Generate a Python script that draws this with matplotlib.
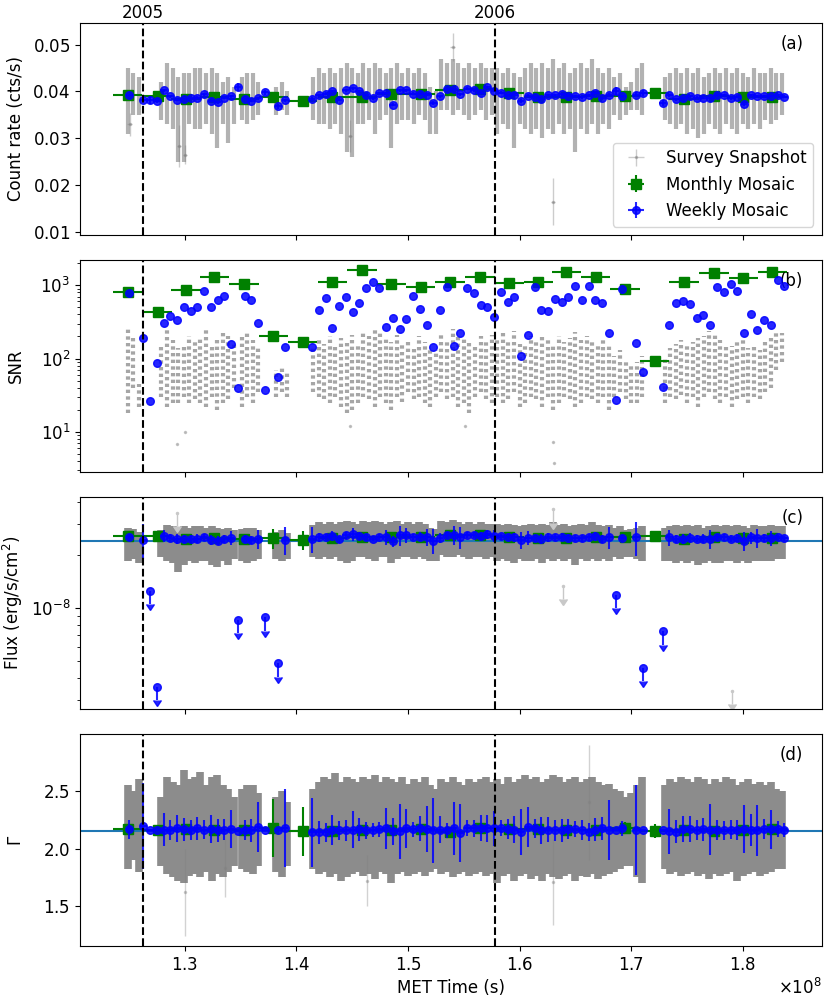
import numpy as np
import matplotlib
matplotlib.use("Agg")
import matplotlib.pyplot as plt

plt.rcParams['axes.formatter.use_mathtext'] = True
plt.rcParams['font.size'] = 12

T8 = 1e8    # times below are in units of 1e8 s (MET)
F8 = 1e-8   # fluxes below are in units of 1e-8 erg/s/cm^2

year_t = [1.262304, 1.577664]
year_labels = ['2005', '2006']

# ---------------- weekly mosaics ----------------
week_t = [1.2503, 1.2629, 1.2688, 1.2751, 1.2811, 1.2871, 1.2930, 1.2993, 1.3053, 1.3113,
          1.3172, 1.3235, 1.3295, 1.3355, 1.3414, 1.3477, 1.3537, 1.3596, 1.3656, 1.3719,
          1.3838, 1.3898, 1.4140, 1.4200, 1.4262, 1.4322, 1.4382, 1.4442, 1.4504, 1.4564,
          1.4624, 1.4684, 1.4743, 1.4803, 1.4863, 1.4926, 1.4985, 1.5045, 1.5105, 1.5168,
          1.5227, 1.5287, 1.5350, 1.5409, 1.5469, 1.5529, 1.5589, 1.5651, 1.5711, 1.5774,
          1.5834, 1.5893, 1.5953, 1.6013, 1.6076, 1.6135, 1.6195, 1.6255, 1.6317, 1.6377,
          1.6437, 1.6500, 1.6559, 1.6619, 1.6679, 1.6742, 1.6801, 1.6861, 1.6921, 1.7043,
          1.7103, 1.7282, 1.7342, 1.7405, 1.7464, 1.7527, 1.7587, 1.7647, 1.7709, 1.7769,
          1.7829, 1.7891, 1.7951, 1.8011, 1.8071, 1.8131, 1.8190, 1.8253, 1.8313, 1.8372]
week_half = 0.003
week_rate = [0.03922, 0.03816, 0.03816, 0.03794, 0.04021, 0.03901, 0.03823, 0.03844, 0.03858, 0.03865,
             0.03943, 0.03801, 0.03766, 0.03865, 0.03894, 0.04099, 0.03844, 0.03801, 0.03851, 0.03979,
             0.03681, 0.03809, 0.03837, 0.03922, 0.03950, 0.04007, 0.03823, 0.04028, 0.04071, 0.04000,
             0.03915, 0.03851, 0.03957, 0.03957, 0.03716, 0.04028, 0.04028, 0.03950, 0.03950, 0.03929,
             0.03759, 0.03901, 0.04050, 0.04043, 0.03943, 0.04057, 0.04028, 0.03972, 0.04085, 0.04014,
             0.03972, 0.03915, 0.03929, 0.03801, 0.03908, 0.03879, 0.03844, 0.03915, 0.03915, 0.03943,
             0.03908, 0.03894, 0.03872, 0.03915, 0.03972, 0.03851, 0.03929, 0.04014, 0.03901, 0.03929,
             0.03972, 0.03759, 0.03922, 0.03837, 0.03851, 0.03901, 0.03865, 0.03865, 0.03851, 0.03915,
             0.03922, 0.03858, 0.03886, 0.03731, 0.03922, 0.03894, 0.03894, 0.03894, 0.03915, 0.03886]
week_rate_err = [0.0003, 0.0004, 0.0009, 0.0005, 0.0003, 0.0003, 0.0003, 0.0003, 0.0003, 0.0003,
                 0.0003, 0.0003, 0.0003, 0.0003, 0.0003, 0.0008, 0.0003, 0.0003, 0.0004, 0.0006,
                 0.0006, 0.0004, 0.0004, 0.0003, 0.0003, 0.0003, 0.0003, 0.0003, 0.0003, 0.0003,
                 0.0003, 0.0003, 0.0003, 0.0003, 0.0003, 0.0003, 0.0003, 0.0003, 0.0003, 0.0003,
                 0.0004, 0.0003, 0.0003, 0.0003, 0.0003, 0.0003, 0.0003, 0.0003, 0.0003, 0.0003,
                 0.0003, 0.0003, 0.0003, 0.0004, 0.0003, 0.0003, 0.0003, 0.0003, 0.0003, 0.0003,
                 0.0003, 0.0003, 0.0003, 0.0003, 0.0003, 0.0003, 0.0004, 0.0009, 0.0003, 0.0005,
                 0.0006, 0.0006, 0.0003, 0.0003, 0.0003, 0.0003, 0.0003, 0.0003, 0.0003, 0.0003,
                 0.0003, 0.0003, 0.0003, 0.0004, 0.0003, 0.0003, 0.0003, 0.0003, 0.0003, 0.0003]
week_snr = [790, 191, 26.6, 86.5, 309, 380, 332, 499, 445, 509,
            824, 504, 622, 712, 158, 39.9, 719, 635, 309, 37.5,
            56.9, 143, 143, 464, 662, 259, 520, 697, 435, 572,
            924, 1104, 915, 267, 361, 251, 343, 719, 479, 284,
            143, 454, 944, 149, 226, 915, 790, 544, 499, 365,
            815, 583, 690, 109, 210, 944, 464, 441, 649, 590,
            697, 973, 622, 973, 629, 578, 226, 27.4, 887, 165,
            65.2, 41.2, 284, 566, 608, 548, 361, 393, 284, 934,
            815, 1038, 832, 226, 404, 243, 336, 290, 1175, 984]
week_flux = [2.51, 2.44, 1.25, 0.357, 2.57, 2.50, 2.45, 2.46, 2.47, 2.47,
             2.52, 2.43, 2.41, 2.47, 2.49, 0.859, 2.46, 2.43, 2.46, 0.885,
             0.486, 2.44, 2.46, 2.51, 2.53, 2.56, 2.45, 2.58, 2.61, 2.56,
             2.51, 2.46, 2.53, 2.53, 2.38, 2.58, 2.58, 2.53, 2.53, 2.51,
             2.41, 2.50, 2.59, 2.59, 2.52, 2.60, 2.58, 2.54, 2.61, 2.57,
             2.54, 2.51, 2.51, 2.43, 2.50, 2.48, 2.46, 2.51, 2.51, 2.52,
             2.50, 2.49, 2.48, 2.51, 2.54, 2.46, 2.51, 1.19, 2.50, 2.51,
             0.459, 0.738, 2.51, 2.46, 2.46, 2.50, 2.47, 2.47, 2.46, 2.51,
             2.51, 2.47, 2.49, 2.39, 2.51, 2.49, 2.49, 2.49, 2.51, 2.49]
week_flux_err = [0.11, 0.55, 0, 0, 0.20, 0.12, 0.16, 0.14, 0.12, 0.14,
                 0.11, 0.17, 0.14, 0.13, 0.23, 0, 0.12, 0.14, 0.30, 0,
                 0, 0.45, 0.42, 0.14, 0.11, 0.18, 0.12, 0.13, 0.22, 0.14,
                 0.10, 0.08, 0.09, 0.25, 0.16, 0.33, 0.24, 0.09, 0.15, 0.28,
                 0.39, 0.16, 0.09, 0.32, 0.35, 0.10, 0.10, 0.15, 0.16, 0.21,
                 0.10, 0.12, 0.16, 0.28, 0.24, 0.11, 0.16, 0.15, 0.13, 0.14,
                 0.12, 0.10, 0.12, 0.11, 0.14, 0.14, 0.36, 0, 0.09, 0.55,
                 0, 0, 0.27, 0.14, 0.15, 0.16, 0.12, 0.14, 0.31, 0.12,
                 0.11, 0.12, 0.12, 0.29, 0.20, 0.31, 0.12, 0.24, 0.09, 0.08]
week_gam = [2.168, 2.197, 2.157, 2.157, 2.163, 2.163, 2.174, 2.168, 2.163, 2.176,
            2.163, 2.168, 2.157, 2.163, 2.168, 2.151, 2.163, 2.157, 2.185, 2.157,
            2.157, 2.179, 2.140, 2.140, 2.140, 2.157, 2.157, 2.157, 2.163, 2.168,
            2.157, 2.163, 2.168, 2.174, 2.148, 2.148, 2.174, 2.168, 2.174, 2.168,
            2.157, 2.163, 2.157, 2.174, 2.134, 2.176, 2.174, 2.179, 2.174, 2.174,
            2.176, 2.168, 2.163, 2.145, 2.185, 2.174, 2.157, 2.163, 2.157, 2.157,
            2.168, 2.168, 2.163, 2.140, 2.163, 2.174, 2.163, 2.163, 2.174, 2.163,
            2.157, 2.157, 2.151, 2.145, 2.168, 2.168, 2.157, 2.168, 2.163, 2.163,
            2.157, 2.163, 2.163, 2.168, 2.163, 2.157, 2.168, 2.168, 2.168, 2.163]
week_gam_err = [0.081, 0.375, 0, 0, 0.145, 0.087, 0.116, 0.10, 0.087, 0.10,
                0.08, 0.12, 0.10, 0.093, 0.166, 0, 0.087, 0.10, 0.217, 0,
                0, 0.335, 0.30, 0.10, 0.08, 0.13, 0.085, 0.093, 0.16, 0.10,
                0.072, 0.06, 0.065, 0.18, 0.115, 0.24, 0.17, 0.065, 0.11, 0.20,
                0.28, 0.115, 0.068, 0.23, 0.25, 0.07, 0.072, 0.11, 0.115, 0.15,
                0.07, 0.087, 0.115, 0.20, 0.175, 0.08, 0.115, 0.11, 0.093, 0.10,
                0.087, 0.072, 0.087, 0.078, 0.10, 0.10, 0.26, 0, 0.065, 0.39,
                0, 0, 0.195, 0.10, 0.11, 0.115, 0.087, 0.10, 0.22, 0.087,
                0.08, 0.084, 0.087, 0.21, 0.14, 0.22, 0.087, 0.17, 0.068, 0.06]
week_ul = [2, 3, 15, 19, 20, 67, 70, 71]   # weeks where the flux is an upper limit

# ---------------- monthly mosaics ----------------
month_t = [1.2489, 1.2757, 1.3011, 1.3265, 1.3531, 1.3793, 1.4056, 1.4322, 1.4588, 1.4851,
           1.5114, 1.5377, 1.5645, 1.5908, 1.6168, 1.6419, 1.6682, 1.6945, 1.7211, 1.7474,
           1.7743, 1.8005, 1.8266]
month_half = 0.0131
month_rate = [0.03929, 0.03908, 0.03844, 0.03886, 0.03837, 0.03879, 0.03794, 0.03886, 0.03886, 0.03936,
              0.03936, 0.04021, 0.04057, 0.03957, 0.03886, 0.03886, 0.03901, 0.03908, 0.03957, 0.03837,
              0.03901, 0.03872, 0.03886]
month_rate_err = [0.0002, 0.0002, 0.0002, 0.0002, 0.0002, 0.0003, 0.0003, 0.0002, 0.0002, 0.0002,
                  0.0002, 0.0002, 0.0002, 0.0002, 0.0002, 0.0002, 0.0002, 0.0002, 0.0003, 0.0002,
                  0.0002, 0.0002, 0.0002]
month_snr = [798, 427, 851, 1304, 1026, 206, 170, 1104, 1607, 1026,
             954, 1114, 1304, 1081, 1114, 1510, 1304, 896, 93, 1097,
             1448, 1238, 1510]
month_flux = [2.54, 2.54, 2.47, 2.50, 2.47, 2.49, 2.44, 2.50, 2.52, 2.53,
              2.53, 2.58, 2.60, 2.53, 2.50, 2.50, 2.51, 2.51, 2.55, 2.47,
              2.51, 2.49, 2.50]
month_flux_err = [0.06, 0.08, 0.05, 0.04, 0.05, 0.32, 0.30, 0.05, 0.04, 0.05,
                  0.05, 0.05, 0.04, 0.05, 0.05, 0.04, 0.04, 0.06, 0.10, 0.05,
                  0.04, 0.04, 0.04]
month_gam = [2.168, 2.163, 2.168, 2.163, 2.163, 2.176, 2.148, 2.148, 2.163, 2.157,
             2.168, 2.140, 2.176, 2.168, 2.168, 2.163, 2.157, 2.176, 2.151, 2.163,
             2.148, 2.163, 2.168]
month_gam_err = [0.04, 0.04, 0.03, 0.025, 0.03, 0.25, 0.215, 0.03, 0.025, 0.03,
                 0.03, 0.03, 0.025, 0.03, 0.03, 0.025, 0.025, 0.05, 0.06, 0.03,
                 0.025, 0.03, 0.025]

# ---------------- survey snapshots (grouped in ~6 day stripes: low / high) ----------------
snap_t = [1.249, 1.254, 1.259,
          1.279, 1.284, 1.289, 1.294, 1.299, 1.304, 1.309, 1.314, 1.319, 1.324, 1.329, 1.334, 1.339, 1.344,
          1.351, 1.356, 1.361, 1.366,
          1.382, 1.387, 1.392,
          1.415, 1.420, 1.425, 1.430, 1.435, 1.440, 1.445, 1.450, 1.455, 1.460,
          1.465, 1.470, 1.475, 1.480, 1.485, 1.490, 1.495, 1.500, 1.505, 1.510,
          1.515, 1.520, 1.525, 1.530, 1.535, 1.540, 1.545, 1.550, 1.555, 1.560,
          1.565, 1.570, 1.575, 1.580, 1.585, 1.590, 1.595, 1.600, 1.605, 1.610,
          1.615, 1.620, 1.625, 1.630, 1.635, 1.640, 1.645, 1.650, 1.655, 1.660,
          1.665, 1.670, 1.675, 1.680, 1.685, 1.690, 1.695, 1.700,
          1.705, 1.710,
          1.730, 1.735, 1.740, 1.745, 1.750, 1.755, 1.760, 1.765, 1.770, 1.775,
          1.780, 1.785, 1.790, 1.795, 1.800, 1.805, 1.810, 1.815, 1.820, 1.825,
          1.830, 1.835]
snap_rate_lo = [0.031, 0.035, 0.035,
                0.034, 0.033, 0.032, 0.025, 0.025, 0.033, 0.032, 0.032, 0.033, 0.031, 0.028, 0.033, 0.029, 0.033,
                0.034, 0.033, 0.034, 0.035,
                0.035, 0.036, 0.035,
                0.034, 0.033, 0.033, 0.032, 0.033, 0.031, 0.027, 0.026, 0.033, 0.033,
                0.034, 0.031, 0.034, 0.035, 0.028, 0.033, 0.034, 0.034, 0.033, 0.035,
                0.034, 0.031, 0.031, 0.036, 0.036, 0.035, 0.036, 0.035, 0.034, 0.035,
                0.036, 0.034, 0.035, 0.031, 0.033, 0.032, 0.028, 0.033, 0.032, 0.031,
                0.032, 0.030, 0.032, 0.031, 0.033, 0.031, 0.032, 0.027, 0.032, 0.031,
                0.033, 0.031, 0.033, 0.032, 0.035, 0.034, 0.035, 0.036,
                0.036, 0.035,
                0.034, 0.033, 0.032, 0.033, 0.031, 0.032, 0.030, 0.031, 0.033, 0.032,
                0.031, 0.033, 0.032, 0.031, 0.033, 0.032, 0.033, 0.032, 0.034, 0.033,
                0.034, 0.035]
snap_rate_hi = [0.045, 0.044, 0.043,
                0.042, 0.046, 0.045, 0.043, 0.044, 0.044, 0.045, 0.045, 0.044, 0.045, 0.044, 0.042, 0.043, 0.041,
                0.043, 0.044, 0.044, 0.042,
                0.041, 0.042, 0.040,
                0.043, 0.045, 0.044, 0.045, 0.044, 0.045, 0.046, 0.045, 0.044, 0.046,
                0.045, 0.046, 0.045, 0.044, 0.045, 0.046, 0.044, 0.045, 0.044, 0.045,
                0.044, 0.041, 0.040, 0.047, 0.046, 0.047, 0.046, 0.045, 0.046, 0.045,
                0.046, 0.045, 0.045, 0.045, 0.044, 0.045, 0.044, 0.043, 0.045, 0.046,
                0.045, 0.046, 0.045, 0.047, 0.045, 0.046, 0.044, 0.045, 0.046, 0.045,
                0.047, 0.045, 0.044, 0.045, 0.043, 0.044, 0.041, 0.042,
                0.045, 0.046,
                0.043, 0.044, 0.045, 0.044, 0.045, 0.044, 0.045, 0.043, 0.044, 0.045,
                0.044, 0.045, 0.044, 0.045, 0.044, 0.043, 0.045, 0.044, 0.044, 0.045,
                0.044, 0.044]
snap_snr_lo = [18, 40, 22,
               30, 22, 25, 25, 30, 25, 28, 25, 22, 30, 20, 25, 28, 40,
               22, 30, 25, 35,
               30, 35, 30,
               35, 30, 28, 25, 30, 22, 18, 20, 25, 30,
               28, 22, 30, 25, 20, 30, 26, 35, 28, 30,
               25, 22, 30, 35, 28, 30, 22, 25, 18, 30,
               35, 28, 25, 30, 25, 28, 35, 22, 25, 30,
               28, 22, 30, 20, 25, 30, 28, 22, 25, 30,
               28, 25, 30, 20, 30, 35, 28, 25,
               25, 30,
               25, 30, 28, 32, 25, 30, 22, 30, 35, 28,
               25, 30, 22, 28, 30, 25, 30, 28, 35, 40,
               70, 90]
snap_snr_hi = [250, 200, 45,
               150, 245, 180, 140, 160, 200, 170, 190, 270, 160, 180, 230, 200, 160,
               200, 240, 180, 150,
               70, 75, 65,
               140, 180, 160, 200, 150, 190, 170, 210, 160, 230,
               200, 260, 240, 190, 170, 210, 160, 180, 150, 200,
               170, 140, 130, 220, 180, 250, 200, 190, 170, 160,
               200, 180, 210, 190, 230, 180, 240, 160, 150, 200,
               170, 210, 180, 160, 200, 170, 190, 230, 180, 200,
               170, 160, 190, 150, 110, 130, 90, 80,
               90, 110,
               100, 140, 160, 180, 150, 170, 190, 200, 240, 220,
               180, 160, 150, 170, 190, 140, 160, 130, 170, 200,
               230, 220]
snap_flux_lo = [1.85, 1.90, 1.80,
                1.95, 1.85, 1.80, 1.60, 1.75, 1.85, 1.80, 1.85, 1.85, 1.75, 1.70, 1.85, 1.75, 1.90,
                1.85, 1.80, 1.85, 1.90,
                1.90, 1.85, 1.90,
                1.95, 1.90, 1.95, 1.90, 1.95, 1.85, 1.80, 1.85, 1.95, 1.95,
                1.90, 1.85, 1.95, 1.95, 1.80, 1.90, 1.95, 1.95, 1.90, 1.95,
                1.90, 1.85, 1.85, 2.00, 1.95, 1.95, 2.00, 1.95, 1.90, 1.95,
                1.95, 1.90, 1.95, 1.85, 1.90, 1.85, 1.80, 1.90, 1.85, 1.85,
                1.90, 1.80, 1.90, 1.85, 1.90, 1.85, 1.90, 1.75, 1.90, 1.85,
                1.90, 1.85, 1.90, 1.85, 1.95, 1.90, 1.95, 1.95,
                1.90, 1.85,
                1.85, 1.85, 1.80, 1.85, 1.80, 1.85, 1.75, 1.80, 1.85, 1.80,
                1.80, 1.85, 1.85, 1.80, 1.85, 1.80, 1.85, 1.85, 1.85, 1.85,
                1.90, 1.90]
snap_flux_hi = [2.85, 2.80, 2.70,
                2.75, 2.95, 2.90, 2.85, 2.90, 2.85, 2.90, 2.90, 2.85, 2.90, 2.85, 2.80, 2.85, 2.75,
                2.80, 2.85, 2.85, 2.75,
                2.70, 2.75, 2.65,
                2.95, 3.05, 3.00, 3.05, 3.00, 3.05, 3.10, 3.05, 3.00, 3.10,
                3.05, 3.10, 3.05, 3.00, 3.05, 3.10, 3.00, 3.05, 3.00, 3.05,
                3.00, 2.85, 2.80, 3.10, 3.05, 3.15, 3.05, 3.00, 3.05, 3.00,
                3.05, 3.00, 3.00, 3.00, 2.95, 3.00, 2.95, 2.90, 2.95, 3.00,
                2.95, 3.00, 2.95, 3.05, 2.95, 3.00, 2.90, 2.95, 3.00, 2.95,
                3.05, 2.95, 2.90, 2.95, 2.85, 2.90, 2.75, 2.80,
                2.85, 2.90,
                2.85, 2.90, 2.95, 2.90, 2.95, 2.90, 2.95, 2.85, 2.90, 2.95,
                2.90, 2.95, 2.90, 2.95, 2.90, 2.85, 2.95, 2.90, 2.90, 2.95,
                2.90, 2.90]
snap_gam_lo = [1.82, 1.90, 1.80,
               1.85, 1.78, 1.75, 1.72, 1.70, 1.76, 1.78, 1.75, 1.80, 1.72, 1.78, 1.75, 1.80, 1.85,
               1.82, 1.80, 1.78, 1.85,
               1.80, 1.75, 1.85,
               1.82, 1.78, 1.80, 1.75, 1.78, 1.72, 1.75, 1.78, 1.80, 1.76,
               1.78, 1.74, 1.80, 1.78, 1.70, 1.78, 1.80, 1.76, 1.78, 1.80,
               1.76, 1.80, 1.82, 1.78, 1.80, 1.75, 1.78, 1.80, 1.76, 1.78,
               1.80, 1.76, 1.78, 1.70, 1.76, 1.78, 1.72, 1.76, 1.78, 1.74,
               1.76, 1.72, 1.78, 1.75, 1.74, 1.76, 1.78, 1.72, 1.76, 1.75,
               1.78, 1.74, 1.76, 1.78, 1.80, 1.82, 1.85, 1.85,
               1.75, 1.70,
               1.82, 1.78, 1.80, 1.76, 1.78, 1.80, 1.76, 1.78, 1.74, 1.78,
               1.76, 1.78, 1.80, 1.72, 1.76, 1.78, 1.80, 1.76, 1.78, 1.80,
               1.82, 1.82]
snap_gam_hi = [2.55, 2.50, 2.60,
               2.45, 2.62, 2.58, 2.55, 2.68, 2.60, 2.62, 2.66, 2.55, 2.62, 2.64, 2.55, 2.52, 2.45,
               2.52, 2.55, 2.55, 2.48,
               2.45, 2.50, 2.40,
               2.52, 2.58, 2.62, 2.60, 2.65, 2.58, 2.62, 2.60, 2.58, 2.62,
               2.60, 2.64, 2.58, 2.62, 2.60, 2.58, 2.62, 2.56, 2.60, 2.58,
               2.62, 2.55, 2.52, 2.60, 2.58, 2.62, 2.58, 2.55, 2.60, 2.58,
               2.60, 2.62, 2.58, 2.60, 2.56, 2.62, 2.58, 2.60, 2.64, 2.60,
               2.62, 2.58, 2.60, 2.64, 2.62, 2.58, 2.60, 2.62, 2.58, 2.60,
               2.62, 2.58, 2.55, 2.56, 2.52, 2.50, 2.45, 2.48,
               2.55, 2.62,
               2.55, 2.60, 2.58, 2.62, 2.60, 2.58, 2.62, 2.60, 2.56, 2.60,
               2.58, 2.62, 2.60, 2.55, 2.58, 2.60, 2.56, 2.58, 2.55, 2.58,
               2.52, 2.50]

# isolated snapshots
out_rate_t = [1.2505, 1.2950, 1.3000, 1.4480, 1.5400, 1.6300]
out_rate = [0.0330, 0.0283, 0.0265, 0.0305, 0.0495, 0.0165]
out_rate_err = [0.0025, 0.0045, 0.0020, 0.0035, 0.0030, 0.0050]
out_snr_t = [1.2928, 1.3002, 1.4480, 1.5510, 1.6300, 1.6310]
out_snr = [6.9, 10.0, 12.0, 12.0, 7.4, 3.8]
out_gam_t = [1.3000, 1.3360, 1.4630, 1.6296, 1.6620]
out_gam = [1.62, 1.83, 1.72, 1.71, 2.40]
out_gam_err = [0.38, 0.25, 0.22, 0.37, 0.50]
out_flux_ul_t = [1.2929, 1.6300, 1.6385, 1.7900]
out_flux_ul = [3.47, 3.62, 1.33, 0.34]

flux_fit = 2.38
gam_fit = 2.151

# ---------------- plotting ----------------
wt = np.array(week_t) * T8
mt = np.array(month_t) * T8
st = np.array(snap_t) * T8
ul = np.zeros(len(week_t), bool)
ul[week_ul] = True
det = ~ul

fig, axs = plt.subplots(4, 1, figsize=(8.3, 10), dpi=100, sharex=True)
fig.subplots_adjust(left=0.0964, right=0.99, top=0.977, bottom=0.054, hspace=0.118)
ax1, ax2, ax3, ax4 = axs

green_kw = dict(fmt='s', color='green', ms=7, lw=1.5, zorder=3)
blue_kw = dict(fmt='o', color='blue', alpha=0.85, ms=5.5, lw=1.5, zorder=4)

# (a) count rate
ax1.vlines(st, snap_rate_lo, snap_rate_hi, color='grey', alpha=0.6, lw=3, zorder=1)
ax1.errorbar(np.array(out_rate_t) * T8, out_rate, yerr=out_rate_err, xerr=0.002 * T8,
             fmt='.', color='grey', alpha=0.4, ms=3, lw=1, zorder=1, label='Survey Snapshot')
ax1.errorbar(mt, month_rate, xerr=month_half * T8, yerr=month_rate_err, label='Monthly Mosaic', **green_kw)
ax1.errorbar(wt, week_rate, xerr=week_half * T8, yerr=week_rate_err, label='Weekly Mosaic', **blue_kw)
ax1.set_ylim(0.0094, 0.0546)
ax1.set_yticks([0.01, 0.02, 0.03, 0.04, 0.05])
ax1.set_ylabel('Count rate (cts/s)')
ax1.legend(loc='lower right', fontsize=12)

# (b) SNR
ax2.vlines(st, snap_snr_lo, snap_snr_hi, color='grey', alpha=0.7, lw=3,
           linestyles=(0, (0.8, 0.8)), zorder=1)
ax2.plot(np.array(out_snr_t) * T8, out_snr, '.', color='grey', alpha=0.4, ms=3)
ax2.errorbar(mt, month_snr, xerr=month_half * T8, **green_kw)
ax2.plot(wt, week_snr, 'o', color='blue', alpha=0.85, ms=5.5, zorder=4)
ax2.set_yscale('log')
ax2.set_ylim(2.85, 2200)
ax2.set_ylabel('SNR')

# (c) flux
ax3.vlines(st, np.array(snap_flux_lo) * F8, np.array(snap_flux_hi) * F8,
           color='#8c8c8c', lw=5.5, zorder=1)
ofl = np.array(out_flux_ul) * F8
ax3.errorbar(np.array(out_flux_ul_t) * T8, ofl, yerr=0.16 * ofl, uplims=True,
             fmt='.', color='#c8c8c8', ms=3, lw=1, zorder=1)
ax3.axhline(flux_fit * F8, color='C0', lw=1.5, zorder=2)
ax3.errorbar(mt, np.array(month_flux) * F8, xerr=month_half * T8,
             yerr=np.array(month_flux_err) * F8, **green_kw)
wf = np.array(week_flux) * F8
ax3.errorbar(wt[det], wf[det], xerr=week_half * T8, yerr=(np.array(week_flux_err) * F8)[det], **blue_kw)
ax3.errorbar(wt[ul], wf[ul], yerr=0.16 * wf[ul], uplims=True, **blue_kw)
ax3.set_yscale('log')
ax3.set_ylim(2.68e-9, 4.25e-8)
ax3.set_ylabel('Flux (erg/s/cm$^2$)')

# (d) photon index
ax4.vlines(st, snap_gam_lo, snap_gam_hi, color='#8c8c8c', lw=5.5, zorder=1)
ax4.errorbar(np.array(out_gam_t) * T8, out_gam, yerr=out_gam_err, fmt='.',
             color='grey', alpha=0.35, ms=3, lw=1, zorder=1)
ax4.axhline(gam_fit, color='C0', lw=1.5, zorder=2)
ax4.axhspan(gam_fit - 0.006, gam_fit + 0.006, color='C0', alpha=0.3, lw=0, zorder=2)
ax4.errorbar(mt, month_gam, xerr=month_half * T8, yerr=month_gam_err, **green_kw)
ax4.errorbar(wt, week_gam, xerr=week_half * T8, yerr=week_gam_err, **blue_kw)
ax4.set_ylim(1.156, 2.992)
ax4.set_yticks([1.5, 2.0, 2.5])
ax4.set_ylabel(r'$\Gamma$')
ax4.set_xlabel('MET Time (s)')
ax4.set_xlim(1.2061e8, 1.8707e8)

for ax, tag in zip(axs, ['(a)', '(b)', '(c)', '(d)']):
    for yt in year_t:
        ax.axvline(yt * T8, color='k', ls='--', lw=1.5, zorder=5)
    ax.text(0.975, 0.9, tag, transform=ax.transAxes, ha='right', va='center', fontsize=12)

for yt, lab in zip(year_t, year_labels):
    ax1.text(yt * T8, 1.005, lab, transform=ax1.get_xaxis_transform(),
             ha='center', va='bottom', fontsize=12)

fig.align_ylabels(axs)
fig.savefig('out.png', dpi=100)
